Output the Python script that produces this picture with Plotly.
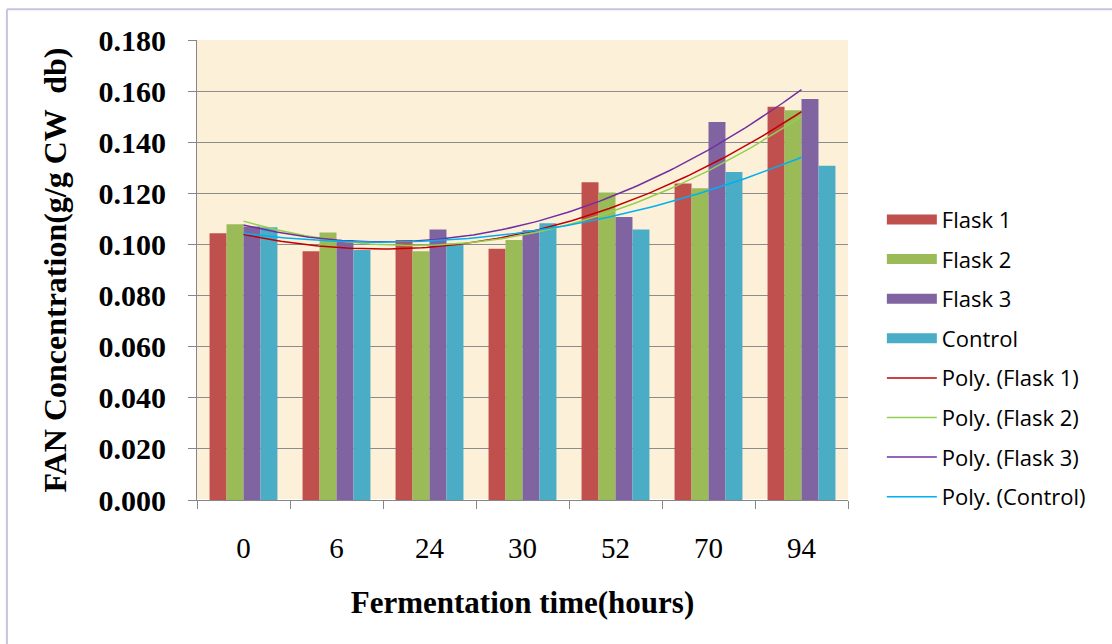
import numpy as np
import plotly.graph_objects as go

categories = ["0", "6", "24", "30", "52", "70", "94"]
flask1 = [0.1044, 0.0973, 0.1017, 0.0983, 0.1243, 0.1238, 0.1539]
flask2 = [0.1079, 0.1047, 0.0973, 0.1017, 0.1203, 0.1220, 0.1525]
flask3 = [0.1070, 0.1017, 0.1058, 0.1056, 0.1107, 0.1479, 0.1569]
control = [0.1067, 0.0978, 0.1004, 0.1083, 0.1058, 0.1283, 0.1308]

series = [
    ("Flask 1", flask1, "#C0504D", "#C00000"),
    ("Flask 2", flask2, "#9BBB59", "#92D050"),
    ("Flask 3", flask3, "#8064A2", "#7030A0"),
    ("Control", control, "#4BACC6", "#00B0F0"),
]

fig = go.Figure()
for i, (name, vals, bc, lc) in enumerate(series):
    fig.add_trace(go.Bar(x=categories, y=vals, name=name, marker_color=bc,
                         marker_line_width=0, showlegend=False))
    # legend entry drawn as a wide swatch, as in the original
    fig.add_trace(go.Scatter(x=[None], y=[None], mode="lines", name=name,
                             line=dict(color=bc, width=14), legendgroup=f"g{i}"))

idx = np.arange(len(categories))
xs = np.linspace(0, len(categories) - 1, 120)
for i, (name, vals, bc, lc) in enumerate(series):
    coef = np.polyfit(idx, vals, 2)
    fig.add_trace(go.Scatter(x=xs, y=np.polyval(coef, xs), mode="lines",
                             name=f"Poly. ({name})", line=dict(color=lc, width=1.5),
                             xaxis="x2", legendgroup=f"t{i}"))

serif = "Liberation Serif"
fig.update_layout(
    width=1112, height=644,
    margin=dict(l=197, r=264, t=40, b=144),
    paper_bgcolor="white",
    plot_bgcolor="#FDF0D8",
    barmode="group", bargap=0.27, bargroupgap=0,
    xaxis=dict(type="category", range=[-0.5, 6.5], tickson="boundaries",
               ticks="outside", ticklen=8, tickcolor="#868686",
               showline=True, linecolor="#868686", showgrid=False,
               tickfont=dict(family=serif, size=29, color="black"),
               ticklabelstandoff=22,
               title=dict(text="<b>Fermentation time(hours)</b>",
                          font=dict(family=serif, size=31, color="black"), standoff=28)),
    xaxis2=dict(overlaying="x", range=[-0.5, 6.5], visible=False),
    yaxis=dict(range=[0, 0.18], dtick=0.02, tickformat=".3f",
               ticks="outside", ticklen=8, tickcolor="#868686",
               showline=True, linecolor="#868686",
               showgrid=True, gridcolor="#8C8C8C", gridwidth=1,
               tickfont=dict(family=serif, size=30, color="black", weight="bold"),
               ticklabelstandoff=16,
               title=dict(text="<b>FAN Concentration(g/g CW  db)</b>",
                          font=dict(family=serif, size=32, color="black"), standoff=22)),
    legend=dict(x=1.052, xanchor="left", y=0.655, yanchor="top",
                font=dict(family="Open Sans", size=22, color="black"),
                traceorder="grouped", tracegroupgap=8, itemwidth=50,
                bgcolor="rgba(0,0,0,0)"),
    showlegend=True,
    shapes=[
        dict(type="line", xref="paper", yref="paper", x0=-0.292, x1=1.5, y0=1.067, y1=1.067,
             line=dict(color="#C9C3DF", width=2)),
        dict(type="line", xref="paper", yref="paper", x0=-0.292, x1=-0.292, y0=1.067, y1=-0.4,
             line=dict(color="#C9C3DF", width=2)),
    ],
)

fig.write_html("out.html")
